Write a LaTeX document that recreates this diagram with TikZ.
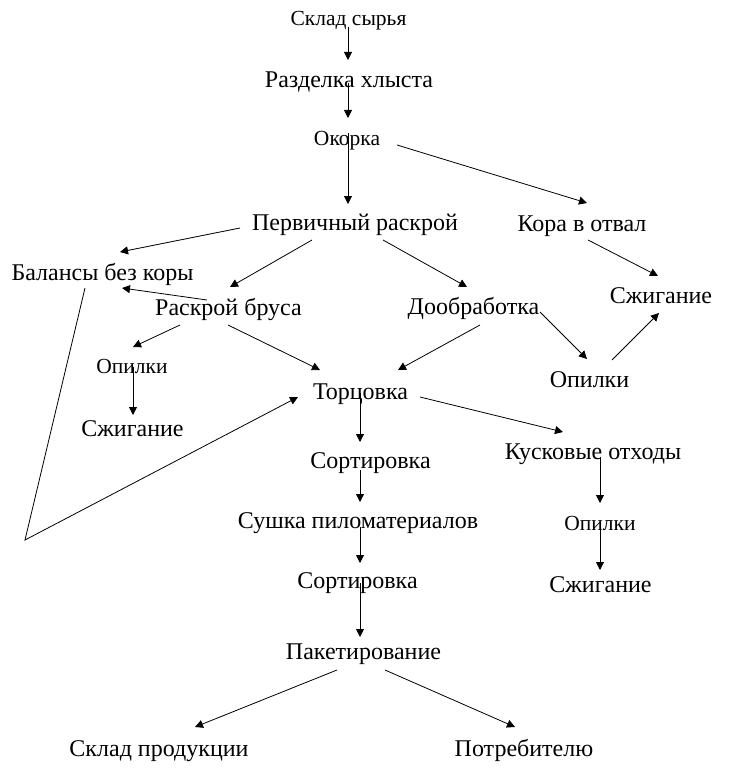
\documentclass[tikz,border=0pt]{standalone}
\usepackage{fontspec}
\setmainfont{Liberation Serif}
\usepackage{tikz}
\usetikzlibrary{arrows.meta,calc}

\begin{document}
\begin{tikzpicture}[x=1pt, y=-1pt,
    every node/.style={font=\fontsize{24}{28}\selectfont, inner sep=0pt, text height=20.8pt, text depth=5pt},
    small/.style={font=\fontsize{21.5}{25}\selectfont, text height=19.2pt, text depth=5pt},
    arr/.style={line width=0.8pt, -{Triangle[length=8pt,width=8pt]}}]
    \useasboundingbox (0,0) rectangle (745,778);

    % Main line
    \node[small] (skl) at (348.5, 18.5) {Склад сырья};
    \node (razd) at (349, 79.5) {Разделка хлыста};
    \node[small] (okorka) at (347, 138.5) {Окорка};
    \node (perv) at (355, 222.5) {Первичный раскрой};
    \node (rbrus) at (228.5, 307.5) {Раскрой бруса};
    \node (doobr) at (473.5, 306.5) {Дообработка};
    \node (torc) at (360.5, 392) {Торцовка};
    \node (sortA) at (370.5, 460.5) {Сортировка};
    \node (sush) at (358, 521) {Сушка пиломатериалов};
    \node (sortB) at (357.5, 580.5) {Сортировка};
    \node (paket) at (363.5, 652) {Пакетирование};
    \node (sklad) at (159, 749) {Склад продукции};
    \node (potr) at (524, 749) {Потребителю};

    % Waste
    \node (kora) at (582, 223.5) {Кора в отвал};
    \node (szhigA) at (661, 295.5) {Сжигание};
    \node (opilB) at (589.5, 379.5) {Опилки};
    \node (bal) at (102.5, 272.5) {Балансы без коры};
    \node[small] (opilA) at (132, 366.5) {Опилки};
    \node (szhigB) at (132.5, 428.5) {Сжигание};
    \node (kusk) at (593, 451.5) {Кусковые отходы};
    \node[small] (opilC) at (600, 523) {Опилки};
    \node (szhigC) at (600.5, 584.5) {Сжигание};
    \coordinate (turn) at (25, 540);

    % Arrows down the main line
    \draw[arr] ($(skl)+(-0.5,8.5)$) -- ($(razd)+(-1,-19.5)$);
    \draw[arr] ($(razd)+(-1,3.5)$) -- ($(okorka)+(1,-20.5)$);
    \draw[arr] ($(okorka)+(1,-5.5)$) -- ($(perv)+(-7,-18.5)$);
    \draw[arr] ($(okorka)+(50,6.5)$) -- ($(kora)+(5,-20.5)$);
    \draw[arr] ($(perv)+(-115,5.5)$) -- ($(bal)+(17.5,-20.5)$);
    \draw[arr] ($(perv)+(-43,17.5)$) -- ($(rbrus)+(1.5,-20.5)$);
    \draw[arr] ($(perv)+(28,17.5)$) -- ($(doobr)+(-6.5,-19.5)$);
    \draw[arr] ($(rbrus)+(-21.5,-7.5)$) -- ($(bal)+(19.5,15.5)$);
    \draw[arr] ($(rbrus)+(-48.5,17.5)$) -- ($(opilA)+(1,-19.5)$);
    \draw[arr] ($(rbrus)+(-0.5,17.5)$) -- ($(torc)+(-40.5,-22)$);
    \draw[arr] ($(doobr)+(6.5,18.5)$) -- ($(torc)+(37.5,-22)$);
    \draw[arr] ($(torc)+(-0.5,1)$) -- ($(sortA)+(-10.5,-18.5)$);
    \draw[arr] ($(sortA)+(-10.5,9.5)$) -- ($(sush)+(2,-19)$);
    \draw[arr] ($(sush)+(2,6)$) -- ($(sortB)+(2.5,-17.5)$);
    \draw[arr] ($(sortB)+(2.5,2.5)$) -- ($(paket)+(-3.5,-15)$);
    \draw[arr] ($(paket)+(-26.5,18)$) -- ($(sklad)+(36,-22)$);
    \draw[arr] ($(paket)+(21.5,18)$) -- ($(potr)+(-9,-22)$);

    % Waste arrows
    \draw[arr] ($(kora)+(6,16.5)$) -- ($(szhigA)+(-3,-19.5)$);
    \draw[arr] ($(doobr)+(66.5,5.5)$) -- ($(opilB)+(-2.5,-20.5)$);
    \draw[arr] ($(opilB)+(22.5,-19.5)$) -- ($(szhigA)+(-2,17.5)$);
    \draw[arr] ($(opilA)+(1,0.5)$) -- ($(szhigB)+(0.5,-13.5)$);
    \draw[arr] ($(torc)+(59.5,5)$) -- ($(kusk)+(-30,-19.5)$);
    \draw[arr] ($(kusk)+(7,5.5)$) -- ($(opilC)+(0,-20)$);
    \draw[arr] ($(opilC)+(0,4)$) -- ($(szhigC)+(-0.5,-14.5)$);
    % Balances back to trimming
    \draw[arr] ($(bal)+(-17.5,15.5)$) -- (turn) -- ($(torc)+(-62.5,5)$);
\end{tikzpicture}
\end{document}
